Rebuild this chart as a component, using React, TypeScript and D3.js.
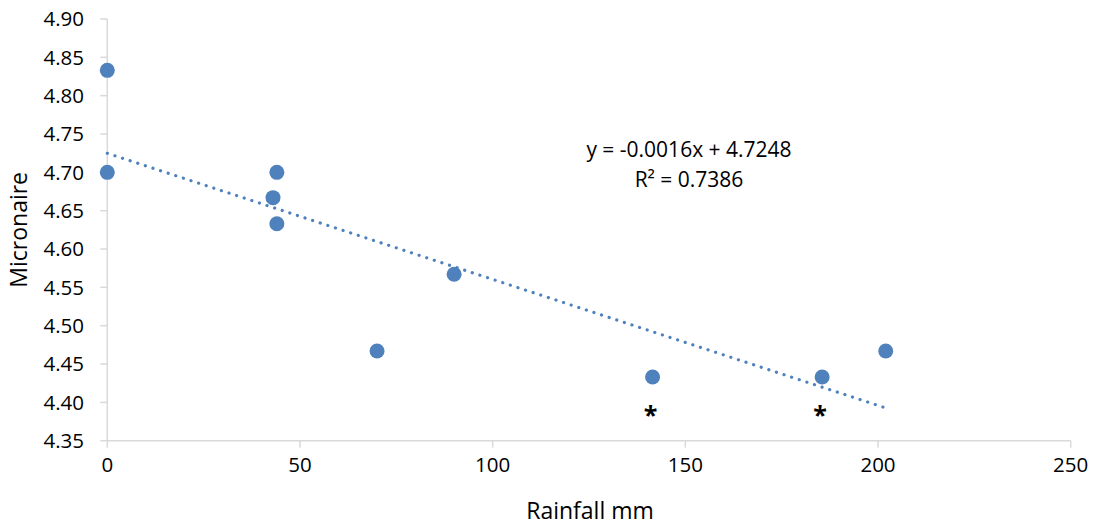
import React from "react";
import * as d3 from "d3";

const rainfall = [0, 0, 44, 43, 44, 90, 70, 141.5, 185.5, 202];
const micronaire = [4.833, 4.7, 4.7, 4.667, 4.633, 4.567, 4.467, 4.433, 4.433, 4.467];
const xTicks = [0, 50, 100, 150, 200, 250];
const yTicks = [4.35, 4.4, 4.45, 4.5, 4.55, 4.6, 4.65, 4.7, 4.75, 4.8, 4.85, 4.9];
const asteriskX = [141.5, 185.5];
const equationLines = ["y = -0.0016x + 4.7248", "R² = 0.7386"];

export default function App() {
  const W = 1099, H = 525;
  const x = d3.scaleLinear().domain([0, 250]).range([107.3, 1070.7]);
  const y = d3.scaleLinear().domain([4.35, 4.9]).range([440.7, 19]);
  const color = "#4f81bd";
  const axisColor = "#d9d9d9";
  const font = "'Open Sans', sans-serif";

  const n = rainfall.length;
  const mx = d3.mean(rainfall)!;
  const my = d3.mean(micronaire)!;
  let sxy = 0, sxx = 0;
  for (let i = 0; i < n; i++) {
    sxy += (rainfall[i] - mx) * (micronaire[i] - my);
    sxx += (rainfall[i] - mx) ** 2;
  }
  const slope = sxy / sxx;
  const icpt = my - slope * mx;
  const x0 = d3.min(rainfall)!, x1 = d3.max(rainfall)!;
  const trend = d3.line<number>().x((d) => x(d)).y((d) => y(icpt + slope * d))([x0, x1]);

  return (
    <svg width={W} height={H} style={{ position: "absolute", left: 0, top: 0, background: "#fff" }}>
      <line x1={x(0)} x2={x(0)} y1={y(4.9)} y2={y(4.35)} stroke={axisColor} strokeWidth={1.5} />
      <line x1={x(0)} x2={x(250)} y1={y(4.35)} y2={y(4.35)} stroke={axisColor} strokeWidth={1.5} />
      {yTicks.map((t) => (
        <g key={"y" + t}>
          <line x1={x(0) - 7} x2={x(0)} y1={y(t)} y2={y(t)} stroke={axisColor} strokeWidth={1.5} />
          <text x={84} y={y(t)} dy="0.36em" textAnchor="end" fontFamily={font} fontSize={20.5} fill="#000">
            {t.toFixed(2)}
          </text>
        </g>
      ))}
      {xTicks.map((t) => (
        <g key={"x" + t}>
          <line x1={x(t)} x2={x(t)} y1={y(4.35)} y2={y(4.35) + 7} stroke={axisColor} strokeWidth={1.5} />
          <text x={x(t)} y={472} textAnchor="middle" fontFamily={font} fontSize={20.5} fill="#000">
            {t}
          </text>
        </g>
      ))}
      <text x={590} y={519} textAnchor="middle" fontFamily={font} fontSize={23} fill="#000">
        Rainfall mm
      </text>
      <text
        transform={`translate(27, ${(y(4.9) + y(4.35)) / 2}) rotate(-90)`}
        textAnchor="middle"
        fontFamily={font}
        fontSize={23}
        fill="#000"
      >
        Micronaire
      </text>
      <path d={trend!} fill="none" stroke={color} strokeWidth={3.2} strokeDasharray="0.1 7.9" strokeLinecap="round" />
      {rainfall.map((r, i) => (
        <circle key={i} cx={x(r)} cy={y(micronaire[i])} r={7.5} fill={color} />
      ))}
      {asteriskX.map((a, i) => (
        <text key={"a" + i} x={x(a) - 2} y={y(4.433) + 47} textAnchor="middle" fontFamily={font} fontSize={25} fontWeight="bold" fill="#000">
          *
        </text>
      ))}
      {equationLines.map((l, i) => (
        <text key={"e" + i} x={689} y={157 + i * 30} textAnchor="middle" fontFamily={font} fontSize={21} fill="#000">
          {l}
        </text>
      ))}
    </svg>
  );
}
